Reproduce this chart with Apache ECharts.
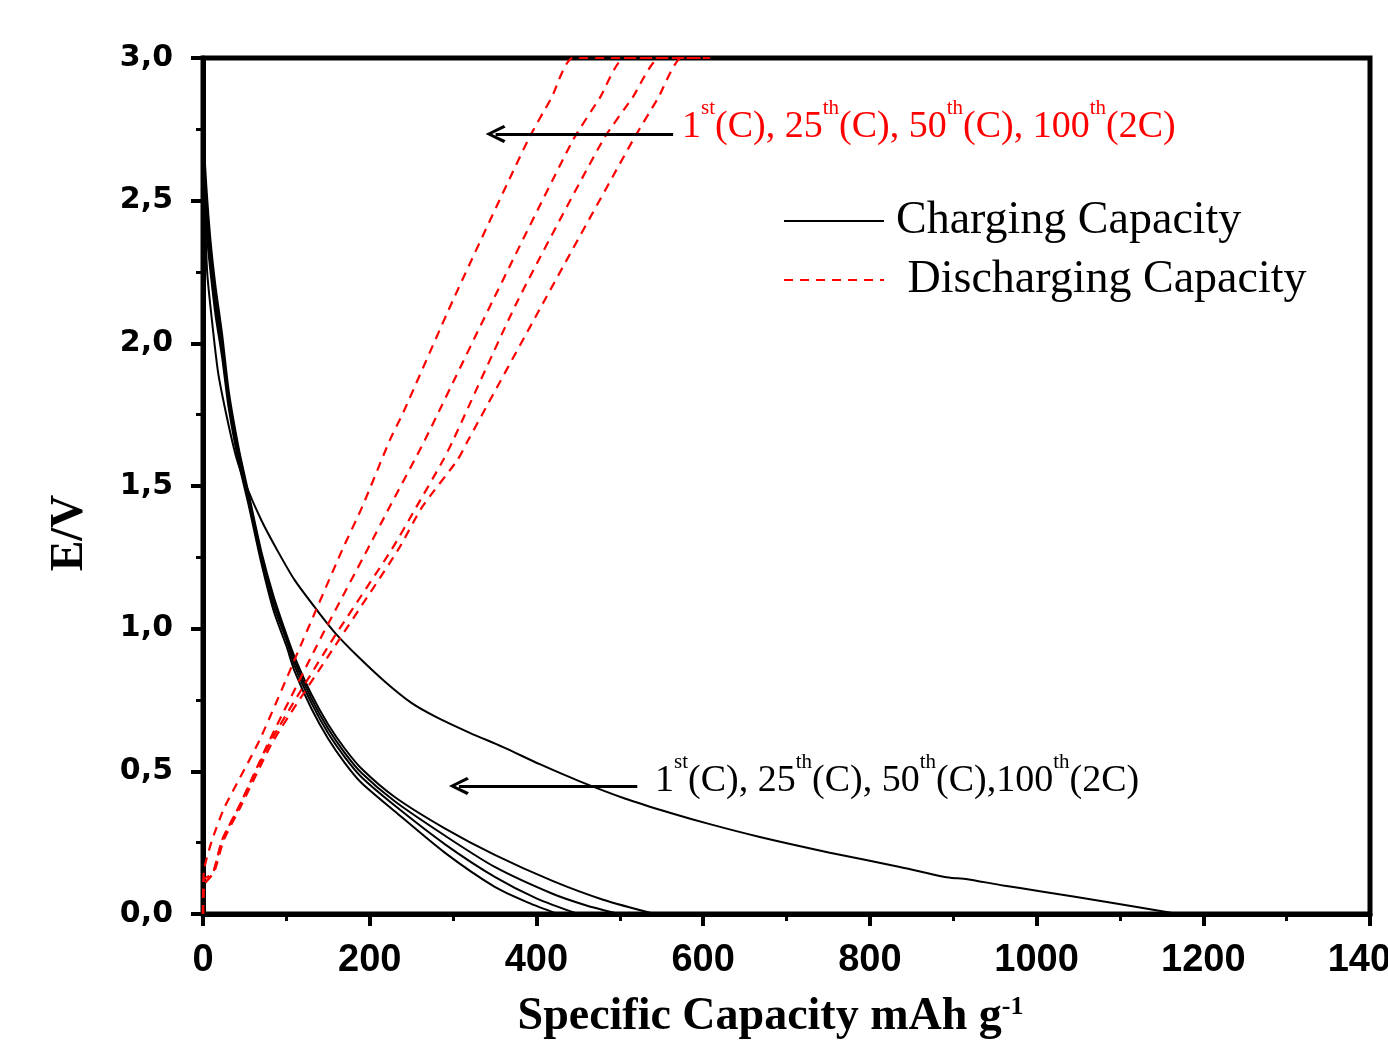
<html>
<head>
    <meta charset='utf-8'>
    <script src='https://cdn.jsdelivr.net/npm/echarts@6/dist/echarts.min.js'></script>
    <style>
        html, body, #main {
            width: 100%;
            height: 100%;
            margin: 0;
            background: #fff;
        }
    </style>
</head>
<body>
<div id='main'></div>
<script>
    // charging curves (black), x = capacity mAh/g, y = E/V
    var charge1X = [0, 2, 5, 10, 18, 28, 40, 52, 70, 90, 110, 138, 160, 185, 218, 250, 280, 320, 360, 404, 452, 506, 560, 608, 668, 752, 836, 890, 905, 915, 960, 1004, 1088, 1170];
    var charge1Y = [2.8, 2.5, 2.25, 2.1, 1.9, 1.75, 1.6, 1.5, 1.38, 1.27, 1.17, 1.06, 0.98, 0.905, 0.815, 0.74, 0.69, 0.635, 0.585, 0.525, 0.465, 0.405, 0.355, 0.315, 0.27, 0.215, 0.165, 0.13, 0.125, 0.123, 0.1, 0.08, 0.04, 0];
    var charge2X = [0, 4, 9, 15, 23, 31, 43, 55, 70, 85, 100, 110, 130, 150, 170, 190, 230, 290, 350, 390, 426];
    var charge2Y = [2.6, 2.4, 2.25, 2.1, 1.95, 1.77, 1.58, 1.43, 1.23, 1.06, 0.94, 0.85, 0.72, 0.615, 0.53, 0.46, 0.36, 0.215, 0.095, 0.04, 0];
    var charge3X = [0, 4, 9, 15, 23, 31, 43, 55, 70, 85, 100, 110, 130, 150, 170, 190, 230, 290, 350, 400, 450];
    var charge3Y = [2.65, 2.45, 2.28, 2.13, 1.97, 1.79, 1.6, 1.45, 1.25, 1.08, 0.96, 0.87, 0.74, 0.634, 0.55, 0.48, 0.38, 0.245, 0.13, 0.055, 0];
    var charge4X = [0, 4, 9, 15, 23, 31, 43, 55, 70, 85, 100, 110, 130, 150, 170, 190, 230, 290, 350, 420, 460, 499];
    var charge4Y = [2.7, 2.5, 2.32, 2.16, 2.0, 1.81, 1.62, 1.46, 1.26, 1.1, 0.97, 0.885, 0.755, 0.65, 0.565, 0.495, 0.395, 0.275, 0.165, 0.07, 0.03, 0];
    var charge5X = [0, 4, 9, 15, 23, 31, 43, 55, 70, 85, 100, 110, 130, 150, 170, 190, 230, 290, 350, 420, 480, 542];
    var charge5Y = [2.75, 2.55, 2.36, 2.2, 2.03, 1.83, 1.63, 1.47, 1.27, 1.11, 0.98, 0.9, 0.77, 0.665, 0.58, 0.51, 0.41, 0.3, 0.207, 0.115, 0.05, 0];

    // discharging curves (red dashed)
    var dis1X = [0, 1, 11, 26, 68, 120, 167, 191, 224, 240, 300, 390, 418, 444, 608];
    var dis1Y = [0, 0.15, 0.26, 0.375, 0.61, 0.96, 1.276, 1.427, 1.66, 1.756, 2.152, 2.713, 2.86, 3.0, 3.0];
    var dis2X = [0, 1, 12, 23, 43, 80, 140, 197, 224, 266, 348, 444, 476, 506, 608];
    var dis2Y = [0, 0.12, 0.144, 0.26, 0.375, 0.61, 0.96, 1.276, 1.427, 1.66, 2.152, 2.713, 2.86, 3.0, 3.0];
    var dis3X = [0, 1, 12, 23, 43, 82, 155, 226, 256, 288, 300, 378, 480, 515, 548, 608];
    var dis3Y = [0, 0.1, 0.144, 0.26, 0.375, 0.61, 0.96, 1.276, 1.427, 1.59, 1.66, 2.152, 2.713, 2.86, 3.0, 3.0];
    var dis4X = [0, 1, 13, 25, 45, 85, 163, 234, 263, 305, 318, 410, 516, 546, 574, 608];
    var dis4Y = [0, 0.1, 0.144, 0.26, 0.375, 0.61, 0.96, 1.276, 1.427, 1.59, 1.66, 2.152, 2.713, 2.86, 3.0, 3.0];

    // annotation arrows [fromX, fromY, toX, toY] in data units
    var arrowRed = [564, 2.734, 351, 2.734];
    var arrowBlack = [521, 0.449, 307, 0.449];

    var chargeSets = [[charge1X, charge1Y], [charge2X, charge2Y], [charge3X, charge3Y], [charge4X, charge4Y], [charge5X, charge5Y]];
    var dischargeSets = [[dis1X, dis1Y], [dis2X, dis2Y], [dis3X, dis3Y], [dis4X, dis4Y]];

    function zip(xs, ys) {
        var res = [];
        for (var i = 0; i < xs.length; i++) {
            res.push([xs[i], ys[i]]);
        }
        return res;
    }

    var chevron = 'path://M0,0 L-7,14 L-5,15.5 L0,5 L5,15.5 L7,14 Z';
    var serif = "'Liberation Serif', 'Times New Roman', serif";

    var series = [];
    chargeSets.forEach(function (s, i) {
        var item = {
            name: 'Charging Capacity',
            type: 'line',
            data: zip(s[0], s[1]),
            showSymbol: false,
            symbol: 'none',
            smooth: 0.25,
            lineStyle: { color: '#000', width: 2 },
            itemStyle: { color: '#000' }
        };
        if (i === 0) {
            item.markLine = {
                silent: true,
                symbol: ['none', chevron],
                symbolSize: [18, 20],
                label: { show: false },
                lineStyle: { color: '#000', width: 3, type: 'solid' },
                data: [
                    [{ coord: [arrowRed[0], arrowRed[1]] }, { coord: [arrowRed[2], arrowRed[3]] }],
                    [{ coord: [arrowBlack[0], arrowBlack[1]] }, { coord: [arrowBlack[2], arrowBlack[3]] }]
                ]
            };
        }
        series.push(item);
    });
    dischargeSets.forEach(function (s) {
        series.push({
            name: 'Discharging Capacity',
            type: 'line',
            data: zip(s[0], s[1]),
            showSymbol: false,
            symbol: 'none',
            smooth: 0.2,
            lineStyle: { color: '#ff0000', width: 2.2, type: [9, 7] },
            itemStyle: { color: '#ff0000' }
        });
    });

    var myChart = echarts.init(document.getElementById('main'));
    myChart.setOption({
        animation: false,
        backgroundColor: '#fff',
        grid: {
            left: 203,
            right: 18,
            top: 58,
            bottom: 132,
            outerBoundsMode: 'none',
            containLabel: false,
            show: true,
            borderColor: '#000',
            borderWidth: 5
        },
        legend: {
            orient: 'vertical',
            left: 783,
            top: 198,
            padding: 0,
            itemWidth: 100,
            itemHeight: 20,
            itemGap: 13,
            itemStyle: { opacity: 0 },
            data: ['Charging Capacity', 'Discharging Capacity'],
            formatter: function (name) {
                return name === 'Discharging Capacity' ? ' ' + name : name;
            },
            textStyle: {
                fontFamily: serif,
                fontSize: 46,
                color: '#000',
                padding: [0, 0, 0, 7]
            }
        },
        xAxis: {
            type: 'value',
            min: 0,
            max: 1400,
            interval: 200,
            name: 'Specific Capacity mAh g{sup|-1}',
            nameLocation: 'middle',
            nameGap: 80,
            nameTextStyle: {
                fontFamily: serif,
                fontWeight: 'bold',
                fontSize: 46,
                color: '#000',
                padding: [0, 32, 0, 0],
                rich: {
                    sup: {
                        fontFamily: serif,
                        fontWeight: 'bold',
                        fontSize: 26,
                        verticalAlign: 'top',
                        color: '#000'
                    }
                }
            },
            axisLine: { lineStyle: { color: '#000', width: 5 } },
            axisTick: { inside: false, length: 12, lineStyle: { width: 4, color: '#000' } },
            minorTick: { show: true, splitNumber: 2, length: 7, lineStyle: { width: 3, color: '#000' } },
            splitLine: { show: false },
            axisLabel: {
                margin: 28,
                fontFamily: "'Liberation Sans', Arial, sans-serif",
                fontWeight: 'bold',
                fontSize: 38,
                color: '#000',
                formatter: function (v) {
                    return String(v);
                }
            }
        },
        yAxis: {
            type: 'value',
            min: 0,
            max: 3,
            interval: 0.5,
            axisLine: { lineStyle: { color: '#000', width: 5 } },
            axisTick: { inside: false, length: 12, lineStyle: { width: 4, color: '#000' } },
            minorTick: { show: true, splitNumber: 2, length: 7, lineStyle: { width: 3, color: '#000' } },
            splitLine: { show: false },
            axisLabel: {
                margin: 30,
                fontFamily: "'DejaVu Sans', sans-serif",
                fontWeight: 'bold',
                fontSize: 30,
                color: '#000',
                formatter: function (v) {
                    return v.toFixed(1).replace('.', ',');
                }
            }
        },
        graphic: [
            {
                type: 'text',
                x: 70,
                y: 533,
                rotation: Math.PI / 2,
                style: {
                    text: 'E/V',
                    fontFamily: serif,
                    fontWeight: 'bold',
                    fontSize: 46,
                    fill: '#000',
                    align: 'center',
                    verticalAlign: 'middle'
                }
            },
            {
                type: 'text',
                left: 682,
                top: 98,
                style: {
                    text: '{a|1}{s|st}{a|(C), 25}{s|th}{a|(C), 50}{s|th}{a|(C), 100}{s|th}{a|(2C)}',
                    rich: {
                        a: { fontFamily: serif, fontSize: 38, fill: '#ff0000', lineHeight: 48, verticalAlign: 'bottom' },
                        s: { fontFamily: serif, fontSize: 21, fill: '#ff0000', lineHeight: 48, verticalAlign: 'top' }
                    }
                }
            },
            {
                type: 'text',
                left: 655,
                top: 752,
                style: {
                    text: '{a|1}{s|st}{a|(C), 25}{s|th}{a|(C), 50}{s|th}{a|(C),100}{s|th}{a|(2C)}',
                    rich: {
                        a: { fontFamily: serif, fontSize: 38, fill: '#000', lineHeight: 48, verticalAlign: 'bottom' },
                        s: { fontFamily: serif, fontSize: 21, fill: '#000', lineHeight: 48, verticalAlign: 'top' }
                    }
                }
            }
        ],
        series: series
    });
</script>
</body>
</html>
